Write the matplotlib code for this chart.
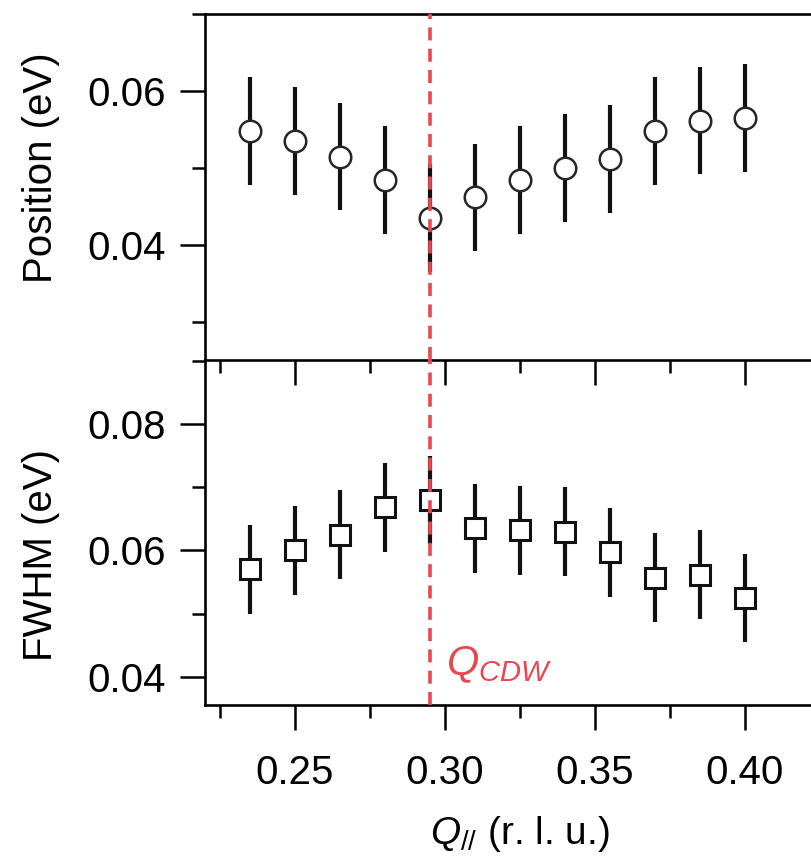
import matplotlib
matplotlib.use("Agg")
import matplotlib.pyplot as plt
from matplotlib.ticker import MultipleLocator

plt.rcParams['font.family'] = ['Liberation Sans', 'DejaVu Sans']
plt.rcParams['mathtext.fontset'] = 'custom'
plt.rcParams['mathtext.it'] = 'Liberation Sans:italic'
plt.rcParams['mathtext.rm'] = 'Liberation Sans'

### Data ###
q = [0.235, 0.25, 0.265, 0.28, 0.295, 0.31, 0.325, 0.34, 0.355, 0.37, 0.385, 0.40]
position = [0.0548, 0.0535, 0.0515, 0.0485, 0.0435, 0.0462, 0.0485, 0.0500, 0.0512, 0.0548, 0.0562, 0.0565]
position_err = [0.0070, 0.0070, 0.0070, 0.0070, 0.0070, 0.0070, 0.0070, 0.0070, 0.0070, 0.0070, 0.0070, 0.0070]
fwhm = [0.0570, 0.0600, 0.0625, 0.0668, 0.0680, 0.0635, 0.0632, 0.0630, 0.0597, 0.0557, 0.0562, 0.0525]
fwhm_err = [0.0070, 0.0070, 0.0070, 0.0070, 0.0070, 0.0070, 0.0070, 0.0070, 0.0070, 0.0070, 0.0070, 0.0070]
q_cdw = 0.295

RED = '#e8474f'
W, H = 812, 866

fig = plt.figure(figsize=(W / 100, H / 100), dpi=100)

left = 205 / W
width = 630 / W
y_top, y_mid, y_bot = 14, 360, 705
ax1 = fig.add_axes([left, 1 - y_mid / H, width, (y_mid - y_top) / H])
ax2 = fig.add_axes([left, 1 - y_bot / H, width, (y_bot - y_mid) / H])
# let the top panel's bottom ticks show through the lower panel
ax2.patch.set_visible(False)

fmt = plt.FuncFormatter(lambda v, p: '%.2f' % v)
for ax in (ax1, ax2):
    ax.set_xlim(0.22, 0.43)
    ax.spines['right'].set_visible(False)
    for s in ax.spines.values():
        s.set_linewidth(1.9)
    ax.xaxis.set_major_locator(MultipleLocator(0.05))
    ax.xaxis.set_minor_locator(MultipleLocator(0.025))
    ax.yaxis.set_minor_locator(MultipleLocator(0.01))
    ax.yaxis.set_major_locator(MultipleLocator(0.02))
    ax.tick_params(which='major', direction='out', length=18, width=1.8, labelsize=29, pad=10)
    ax.tick_params(which='minor', direction='out', length=9.5, width=1.8)
    ax.tick_params(axis='x', which='both', top=False)
    ax.tick_params(axis='y', which='both', right=False)
    ax.yaxis.set_major_formatter(fmt)

ax1.tick_params(axis='x', labelbottom=False)
ax2.spines['top'].set_visible(False)
ax2.xaxis.set_major_formatter(fmt)
ax2.tick_params(axis='x', which='major', pad=17)

ax1.set_ylim(0.02506, 0.07005)
ax2.set_ylim(0.03557, 0.09012)

ax1.errorbar(q, position, yerr=position_err, fmt='o', ms=15.5, mfc='white', mec='#262626',
             mew=1.8, ecolor='#111111', elinewidth=3, capsize=0, zorder=3)
ax2.errorbar(q, fwhm, yerr=fwhm_err, fmt='s', ms=14, mfc='white', mec='#111111',
             mew=2.2, ecolor='#111111', elinewidth=3, capsize=0, zorder=3)

for ax in (ax1, ax2):
    ax.axvline(q_cdw, color=RED, lw=2.6, ls=(0, (3.6, 2.3)), zorder=5)

ax1.set_ylabel('Position (eV)', fontsize=29)
ax2.set_ylabel('FWHM (eV)', fontsize=29)
ax1.yaxis.set_label_coords(-0.23, 0.557)
ax2.yaxis.set_label_coords(-0.23, 0.435)
ax2.set_xlabel(r'$Q_{//}$ (r. l. u.)', fontsize=28, labelpad=16)

ax2.text(0.3003, 0.0388, r'$Q_{CDW}$', color=RED, fontsize=30, ha='left', va='bottom')

fig.savefig('out.png', dpi=100)
